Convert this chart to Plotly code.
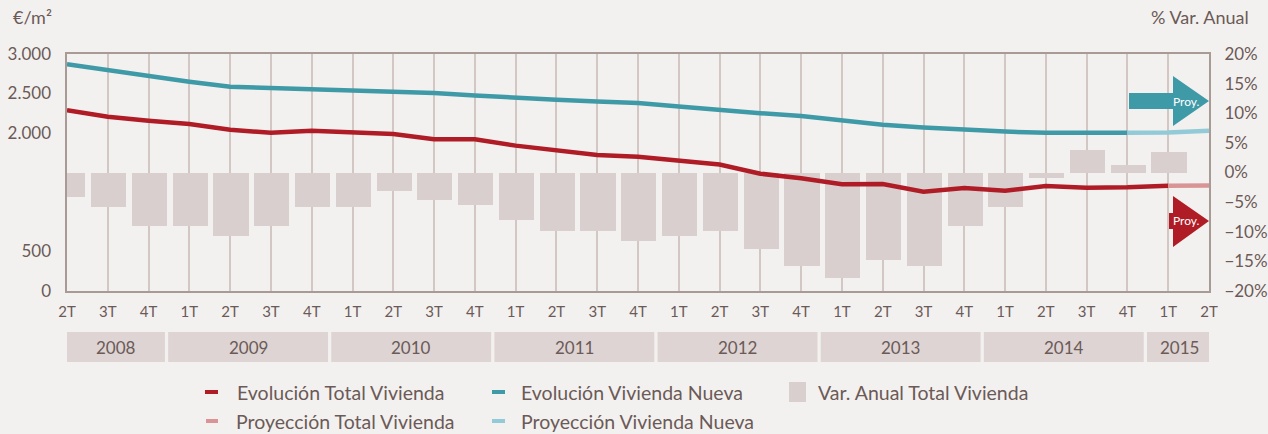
import plotly.graph_objects as go

quarters = ["2T","3T","4T","1T","2T","3T","4T","1T","2T","3T","4T","1T","2T","3T","4T",
            "1T","2T","3T","4T","1T","2T","3T","4T","1T","2T","3T","4T","1T","2T"]
quarter_years = ["2008"]*3 + ["2009"]*4 + ["2010"]*4 + ["2011"]*4 + ["2012"]*4 + ["2013"]*4 + ["2014"]*4 + ["2015"]*2

total_vivienda = [2288, 2206, 2156, 2114, 2040, 2004, 2030, 2004, 1987, 1920, 1920, 1840, 1785, 1722, 1700,
                  1646, 1602, 1485, 1426, 1350, 1354, 1257, 1304, 1270, 1329, 1308, 1313, 1333]
proy_total = [1333, 1335]
vivienda_nueva = [2870, 2797, 2713, 2650, 2586, 2570, 2560, 2548, 2535, 2505, 2475, 2445, 2420, 2400, 2380,
                  2335, 2290, 2250, 2215, 2160, 2105, 2070, 2040, 2018, 2002, 2000, 2004]
proy_nueva = [2004, 2005, 2030]
var_anual = [-4.1, -5.9, -9.0, -9.0, -10.8, -9.0, -5.9, -5.9, -3.1, -4.6, -5.4, -8.0, -9.8, -9.8, -11.5,
             -10.8, -9.8, -12.9, -15.7, -17.8, -14.7, -15.7, -9.0, -5.9, -1.0, 3.8, 1.3, 3.5]

left_tickvals = [0, 500, 2000, 2500, 3000]
left_ticktext = ["0", "500", "2.000", "2.500", "3.000"]

RED = "#b01c26"
TEAL = "#3f9aa8"
LRED = "#d99595"
LTEAL = "#93cad8"
BAR = "#d9cfcf"
TXT = "#6b5a57"
BG = "#f3f1ef"
GRID = "#d2c7c2"
AXIS = "#a89a94"
FONT = "Lato"

W, H = 1268, 434
L, R, T, B = 67, 1209, 54, 291
def px(x): return (x - L) / (R - L)
def py(y): return (B - y) / (B - T)

n = len(quarters)
xs = list(range(n))

fig = go.Figure()
# bars on the base (right-side) axis, lines on the overlaying (left-side) axis so lines draw on top
fig.add_trace(go.Bar(x=xs[:len(var_anual)], y=var_anual, yaxis="y", marker=dict(color=BAR, line=dict(width=0)),
                     width=0.86, offset=-0.41, showlegend=False))
fig.add_trace(go.Scatter(x=xs[:len(total_vivienda)], y=total_vivienda, mode="lines", yaxis="y2",
                         line=dict(color=RED, width=4.5), showlegend=False))
fig.add_trace(go.Scatter(x=xs[len(total_vivienda)-1:], y=proy_total, mode="lines", yaxis="y2",
                         line=dict(color=LRED, width=4.5), showlegend=False))
fig.add_trace(go.Scatter(x=xs[:len(vivienda_nueva)], y=vivienda_nueva, mode="lines", yaxis="y2",
                         line=dict(color=TEAL, width=4.5), showlegend=False))
fig.add_trace(go.Scatter(x=xs[len(vivienda_nueva)-1:], y=proy_nueva, mode="lines", yaxis="y2",
                         line=dict(color=LTEAL, width=4.5), showlegend=False))

shapes = []
annotations = []

# year boxes
years_order = []
for yv in quarter_years:
    if yv not in years_order:
        years_order.append(yv)
for yv in years_order:
    idx = [i for i, q in enumerate(quarter_years) if q == yv]
    x0 = max(0, idx[0] - 0.52)
    x1 = min(n - 1 + 0.05, idx[-1] + 0.4)
    shapes.append(dict(type="rect", xref="x", yref="paper", x0=x0, x1=x1, y0=py(332), y1=py(362),
                       fillcolor="#ddd4d3", line=dict(width=0), layer="above"))
    annotations.append(dict(x=(x0 + x1) / 2, y=py(347), xref="x", yref="paper", text=yv, showarrow=False,
                            font=dict(size=17, color=TXT, family=FONT), xanchor="center", yanchor="middle"))

# arrows (projection markers)
def arrow(y0, y1, yh0, yh1, ymid, xb0, xh, color):
    path = (f"M {xb0},{y0} L {xh},{y0} L {xh},{yh0} L {n-1},{ymid} L {xh},{yh1} L {xh},{y1} L {xb0},{y1} Z")
    return dict(type="path", xref="x", yref="paper", path=path, fillcolor=color, line=dict(width=0), layer="above")

step = (R - L) / (n - 1)
xh = (1173 - L) / step
xb_teal = (1129 - L) / step
xb_red = (1169 - L) / step
shapes.append(arrow(py(93), py(109), py(76), py(126), py(101), xb_teal, xh, TEAL))
shapes.append(arrow(py(213), py(229), py(196), py(247), py(221), xb_red, xh, RED))
annotations.append(dict(x=px(1186), y=py(101), xref="paper", yref="paper", text="Proy.", showarrow=False,
                        font=dict(size=12, color="white", family=FONT), xanchor="center", yanchor="middle"))
annotations.append(dict(x=px(1186), y=py(220), xref="paper", yref="paper", text="Proy.", showarrow=False,
                        font=dict(size=12, color="white", family=FONT), xanchor="center", yanchor="middle"))

# axis titles
annotations.append(dict(x=px(11), y=py(17), xref="paper", yref="paper", text="€/m²", showarrow=False,
                        font=dict(size=18, color=TXT, family=FONT), xanchor="left", yanchor="middle"))
annotations.append(dict(x=px(1251), y=py(17), xref="paper", yref="paper", text="% Var. Anual", showarrow=False,
                        font=dict(size=18, color=TXT, family=FONT), xanchor="right", yanchor="middle"))

# manual legend
leg = [
    ("line", RED, 205, 218, 392, 235, "Evolución Total Vivienda"),
    ("line", TEAL, 492, 505, 392, 519, "Evolución Vivienda Nueva"),
    ("rect", BAR, 789, 806, 392, 816, "Var. Anual Total Vivienda"),
    ("line", LRED, 206, 218, 421, 234, "Proyección Total Vivienda"),
    ("line", LTEAL, 492, 505, 421, 519, "Proyección Vivienda Nueva"),
]
for kind, col, x0, x1, yy, tx, label in leg:
    if kind == "line":
        shapes.append(dict(type="line", xref="paper", yref="paper", x0=px(x0), x1=px(x1), y0=py(yy), y1=py(yy),
                           line=dict(color=col, width=4)))
    else:
        shapes.append(dict(type="rect", xref="paper", yref="paper", x0=px(x0), x1=px(x1), y0=py(yy - 10), y1=py(yy + 10),
                           fillcolor=col, line=dict(width=0)))
    annotations.append(dict(x=px(tx), y=py(yy), xref="paper", yref="paper", text=label, showarrow=False,
                            font=dict(size=19.5, color=TXT, family=FONT), xanchor="left", yanchor="middle"))

fig.update_layout(
    width=W, height=H,
    margin=dict(l=L, r=W - R, t=T, b=H - B, autoexpand=False),
    paper_bgcolor=BG, plot_bgcolor=BG,
    font=dict(family=FONT, color=TXT),
    bargap=0,
    xaxis=dict(range=[0, n - 1], tickvals=xs, ticktext=quarters, showgrid=True, gridcolor=GRID, gridwidth=1.5,
               showline=True, linecolor=AXIS, linewidth=2, mirror=True, zeroline=False, automargin=False,
               tickfont=dict(size=15, color=TXT, family=FONT), ticks="", ticklabelstandoff=6),
    yaxis=dict(range=[-20, 20], dtick=5, ticksuffix="%", side="right", showgrid=False, automargin=False,
               zeroline=False, showline=True, linecolor=AXIS, linewidth=2, mirror=True,
               tickfont=dict(size=17, color=TXT, family=FONT), ticks="", ticklabelstandoff=10),
    yaxis2=dict(range=[0, 3000], tickvals=left_tickvals, ticktext=left_ticktext, showgrid=False, automargin=False,
                overlaying="y", side="left", showline=False, zeroline=False,
                tickfont=dict(size=17, color=TXT, family=FONT), ticks="", ticklabelstandoff=15),
    shapes=shapes, annotations=annotations,
)

fig.write_html("out.html", config={"displayModeBar": False},
               post_script="document.body.style.margin='0';document.body.style.overflow='hidden';")
